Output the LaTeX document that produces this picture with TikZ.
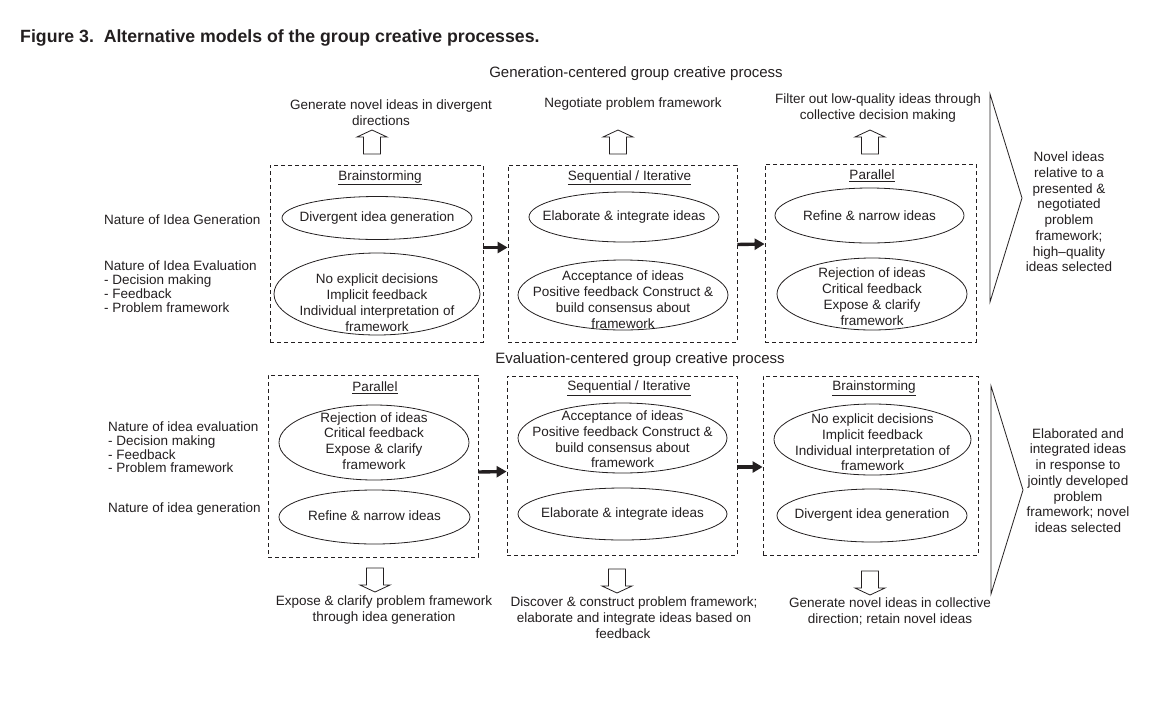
\documentclass[tikz,border=0pt]{standalone}
\usepackage{fontspec}
\setmainfont{Liberation Sans}
\usetikzlibrary{shapes.geometric,arrows.meta}
\definecolor{ink}{RGB}{35,31,32}
\begin{document}
\begin{tikzpicture}[x=1pt,y=-1pt,
  every node/.style={text=ink},
  txt/.style={font=\fontsize{13.5}{16}\selectfont, align=center, inner sep=0pt},
  rtxt/.style={font=\fontsize{13.5}{15.7}\selectfont, align=center, inner sep=0pt},
  lefttxt/.style={font=\fontsize{13.5}{14}\selectfont, align=left, anchor=west, inner sep=0pt},
  headtxt/.style={font=\fontsize{15}{18}\selectfont, inner sep=0pt},
  stagebox/.style={draw=ink, dash pattern=on 4pt off 3pt, line width=0.8pt, inner sep=0pt},
  oval/.style={ellipse, draw=ink, line width=0.8pt, inner sep=0pt},
  flowarrow/.style={draw=ink, line width=3.4pt, -{Triangle[length=10pt,width=11pt]}},
  chevron/.style={draw=ink, line width=0.8pt, line join=miter},
  blockup/.pic={\draw[ink, line width=0.8pt] (0,0) -- (15,7) -- (8.5,7) -- (8.5,24) -- (-8.5,24) -- (-8.5,7) -- (-15,7) -- cycle;},
  blockdown/.pic={\draw[ink, line width=0.8pt] (0,0) -- (15,-7) -- (8.5,-7) -- (8.5,-24) -- (-8.5,-24) -- (-8.5,-7) -- (-15,-7) -- cycle;}
]
\useasboundingbox (0,0) rectangle (1168,705);

% title
\node[anchor=base west, inner sep=0pt, font=\fontsize{17.7}{20}\selectfont\bfseries] (title) at (20,42)
  {Figure 3.\ \ Alternative models of the group creative processes.};

% ---------------- top process ----------------
\node[headtxt] (head1) at (636,74) {Generation-centered group creative process};

\node[txt] (lab1) at (391,113) {Generate novel ideas in divergent\\directions\hspace*{20pt}};
\node[txt] (lab2) at (633,104) {Negotiate problem framework};
\node[txt] (lab3) at (878,108) {Filter out low-quality ideas through\\collective decision making};
\pic at (372,130) {blockup};
\pic at (618,130) {blockup};
\pic at (870,130) {blockup};

\node[stagebox, minimum width=213pt, minimum height=177pt] (b1) at (376.5,253.5) {};
\node[stagebox, minimum width=229pt, minimum height=177pt] (b2) at (622.5,253.5) {};
\node[stagebox, minimum width=211pt, minimum height=178pt] (b3) at (870.5,253) {};

\node[txt] (t1) at (380,178) {\underline{Brainstorming}};
\node[txt] (t2) at (629.5,178) {\underline{Sequential / Iterative}};
\node[txt] (t3) at (872,176) {\underline{Parallel}};

\node[oval, minimum width=190pt, minimum height=43pt] (e11) at (377,218) {};
\node[txt] (x11) at (377,218) {Divergent idea generation};
\node[oval, minimum width=206pt, minimum height=82pt] (e12) at (377,294) {};
\node[txt] (x12) at (377,303) {No explicit decisions\\Implicit feedback\\Individual interpretation of\\framework};

\node[oval, minimum width=190pt, minimum height=50pt] (e21) at (624,217) {};
\node[txt] (x21) at (624,217) {Elaborate \& integrate ideas};
\node[oval, minimum width=210pt, minimum height=70pt] (e22) at (623,295) {};
\node[txt] (x22) at (623,300) {Acceptance of ideas\\Positive feedback Construct \&\\build consensus about\\framework};

\node[oval, minimum width=189pt, minimum height=55pt] (e31) at (869.5,215.5) {};
\node[txt] (x31) at (869.5,216) {Refine \& narrow ideas};
\node[oval, minimum width=190pt, minimum height=72pt] (e32) at (872,294) {};
\node[txt] (x32) at (872,297) {Rejection of ideas\\Critical feedback\\Expose \& clarify\\framework};

\node[lefttxt] (l1) at (104,220) {Nature of Idea Generation};
\node[lefttxt] (l2) at (104,287) {Nature of Idea Evaluation\\- Decision making\\- Feedback\\- Problem framework};

\draw[flowarrow] ([yshift=6pt]b1.east) -- ([yshift=6pt]b2.west);
\draw[flowarrow] ([yshift=9pt]b2.east) -- ([yshift=9pt]b3.west);

\draw[chevron] (990,94) coordinate (c1a) -- (1022,198) coordinate (c1b) -- (990,302) coordinate (c1c) -- cycle;
\node[rtxt] (r1) at (1069,212) {Novel ideas\\relative to a\\presented \&\\negotiated\\problem\\framework;\\high--quality\\ideas selected};

% ---------------- bottom process ----------------
\node[headtxt] (head2) at (640,360) {Evaluation-centered group creative process};

\node[stagebox, minimum width=210pt, minimum height=182pt] (b4) at (373,466) {};
\node[stagebox, minimum width=230pt, minimum height=179pt] (b5) at (622,465.5) {};
\node[stagebox, minimum width=215pt, minimum height=179pt] (b6) at (870.5,465.5) {};

\node[txt] (t4) at (375,388) {\underline{Parallel}};
\node[txt] (t5) at (629,388) {\underline{Sequential / Iterative}};
\node[txt] (t6) at (874,388) {\underline{Brainstorming}};

\node[oval, minimum width=190pt, minimum height=75pt] (e41) at (374,442.5) {};
\node[rtxt] (x41) at (374,441) {Rejection of ideas\\Critical feedback\\Expose \& clarify\\framework};
\node[oval, minimum width=191pt, minimum height=54pt] (e42) at (374.5,517) {};
\node[txt] (x42) at (374.5,516) {Refine \& narrow ideas};

\node[oval, minimum width=209pt, minimum height=70pt] (e51) at (622.5,438) {};
\node[rtxt] (x51) at (622.5,439.5) {Acceptance of ideas\\Positive feedback Construct \&\\build consensus about\\framework};
\node[oval, minimum width=209pt, minimum height=52pt] (e52) at (622.5,514) {};
\node[txt] (x52) at (622.5,514) {Elaborate \& integrate ideas};

\node[oval, minimum width=197pt, minimum height=71pt] (e61) at (872.5,439.5) {};
\node[rtxt] (x61) at (872.5,442.5) {No explicit decisions\\Implicit feedback\\Individual interpretation of\\framework};
\node[oval, minimum width=190pt, minimum height=53pt] (e62) at (872,515.5) {};
\node[txt] (x62) at (872,515) {Divergent idea generation};

\node[lefttxt, font=\fontsize{13.5}{13.7}\selectfont] (l3) at (108,447.5) {Nature of idea evaluation\\- Decision making\\- Feedback\\- Problem framework};
\node[lefttxt] (l4) at (108,509) {Nature of idea generation};

\draw[flowarrow] ([yshift=-6pt]b4.east) -- ([yshift=-6pt]b5.west);
\draw[flowarrow] ([yshift=-1.5pt]b5.east) -- ([yshift=-1.5pt]b6.west);

\pic at (375,592) {blockdown};
\pic at (617,593) {blockdown};
\pic at (870,595) {blockdown};

\node[txt] (bl4) at (384,610) {Expose \& clarify problem framework\\through idea generation};
\node[txt] (bl5) at (634,618) {Discover \& construct problem framework;\\elaborate and integrate ideas based on\\feedback\hspace*{22pt}};
\node[txt] (bl6) at (890,611) {Generate novel ideas in collective\\direction; retain novel ideas};

\draw[chevron] (991,386) coordinate (c2a) -- (1023,490) coordinate (c2b) -- (991,594) coordinate (c2c) -- cycle;
\node[rtxt] (r2) at (1078,480.5) {Elaborated and\\integrated ideas\\in response to\\jointly developed\\problem\\framework; novel\\ideas selected};
\end{tikzpicture}
\end{document}
